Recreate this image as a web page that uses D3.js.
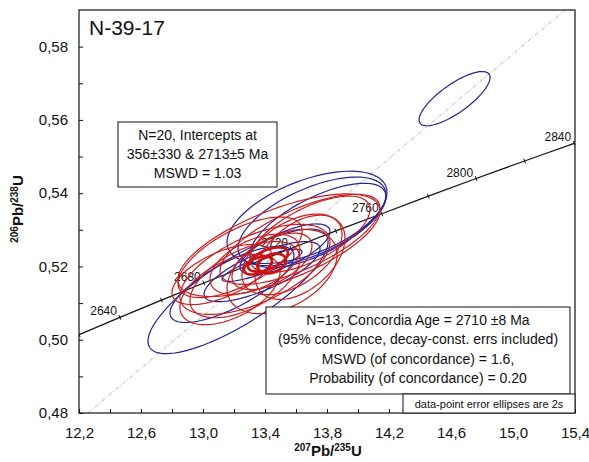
<!DOCTYPE html>
<html>
<head>
<meta charset="utf-8">
<script src="https://cdn.jsdelivr.net/npm/d3@7"></script>
<style>
  body { margin: 0; background: #fff; }
  svg { display: block; }
  text { font-family: Arial, "Liberation Sans", Helvetica, sans-serif; fill: #111; }
</style>
</head>
<body>
<svg id="chart" width="589" height="462"></svg>
<script>
// Axis tick values (207Pb/235U and 206Pb/238U)
const xTicks = [12.2, 12.4, 12.6, 12.8, 13.0, 13.2, 13.4, 13.6, 13.8, 14.0, 14.2, 14.4, 14.6, 14.8, 15.0, 15.2, 15.4];
const xLabelled = [12.2, 12.6, 13.0, 13.4, 13.8, 14.2, 14.6, 15.0, 15.4];
const yTicks = [0.48, 0.49, 0.50, 0.51, 0.52, 0.53, 0.54, 0.55, 0.56, 0.57, 0.58];
const yLabelled = [0.48, 0.50, 0.52, 0.54, 0.56, 0.58];

// Concordia curve points (age in Ma, 207Pb/235U, 206Pb/238U)
const concordiaAges = [2600, 2620, 2640, 2660, 2680, 2700, 2720, 2740, 2760, 2780, 2800, 2820, 2840];
const concordia207 = [11.944, 12.201, 12.464, 12.732, 13.005, 13.283, 13.568, 13.857, 14.153, 14.454, 14.762, 15.075, 15.395];
const concordia206 = [0.4968, 0.5014, 0.5061, 0.5108, 0.5155, 0.5202, 0.5249, 0.5297, 0.5344, 0.5392, 0.5440, 0.5488, 0.5536];
const labelledAges = [2640, 2680, 2720, 2760, 2800, 2840];

// Discordia (regression through both intercepts), end points inside the plot
const discordia207 = [12.258, 15.335];
const discordia206 = [0.480, 0.590];

// Error ellipses: [207Pb/235U, 206Pb/238U, 2s(207/235), 2s(206/238), rho]
const blueEllipses = [
  [14.623, 0.5658, 0.229, 0.0074, 0.78],
  [13.226, 0.5132, 0.581, 0.0170, 0.80],
  [13.187, 0.5151, 0.400, 0.0104, 0.75],
  [13.381, 0.5186, 0.374, 0.0082, 0.75],
  [13.671, 0.5334, 0.516, 0.0126, 0.54],
  [13.703, 0.5323, 0.477, 0.0121, 0.60],
  [13.742, 0.5312, 0.439, 0.0115, 0.68],
  [13.381, 0.5203, 0.258, 0.0044, 0.85],
  [13.529, 0.5247, 0.290, 0.0069, 0.70]
];
const redEllipses = [
  [13.335, 0.5192, 0.484, 0.0123, 0.60],
  [13.490, 0.5258, 0.652, 0.0140, 0.67],
  [13.626, 0.5274, 0.516, 0.0123, 0.70],
  [13.271, 0.5164, 0.355, 0.0104, 0.55],
  [13.174, 0.5137, 0.323, 0.0096, 0.50],
  [13.335, 0.5206, 0.290, 0.0082, 0.50],
  [13.445, 0.5214, 0.258, 0.0077, 0.55],
  [13.574, 0.5233, 0.323, 0.0110, 0.50],
  [13.239, 0.5225, 0.400, 0.0110, 0.65],
  [13.510, 0.5186, 0.355, 0.0115, 0.40],
  [13.626, 0.5225, 0.290, 0.0115, 0.45],
  [13.123, 0.5178, 0.323, 0.0082, 0.60],
  [13.690, 0.5288, 0.387, 0.0104, 0.65]
];
const boldEllipses = [
  [13.419, 0.5219, 0.129, 0.0033, 0.55],
  [13.355, 0.5203, 0.090, 0.0025, 0.45],
  [13.445, 0.5208, 0.090, 0.0027, 0.30]
];

const sampleName = "N-39-17";
const interceptText = ["N=20, Intercepts at", "356±330 & 2713±5 Ma", "MSWD = 1.03"];
const concordiaText = ["N=13, Concordia Age = 2710 ±8 Ma", "(95% confidence, decay-const. errs included)",
  "MSWD (of concordance) = 1.6,", "Probability (of concordance) = 0.20"];
const footnote = "data-point error ellipses are 2s";

(function draw() {
  const svg = d3.select("#chart");
  const pL = 79, pR = 575, pT = 10, pB = 413;
  const x = d3.scaleLinear().domain([12.2, 15.4]).range([pL, pR]);
  const y = d3.scaleLinear().domain([0.48, 0.59]).range([pB, pT]);

  svg.append("defs").append("clipPath").attr("id", "plotClip")
    .append("rect").attr("x", pL).attr("y", pT).attr("width", pR - pL).attr("height", pB - pT);

  const comma = (v, d) => v.toFixed(d).replace(".", ",");
  const isIn = (arr, d) => arr.some(v => Math.abs(v - d) < 1e-9);

  // axes with inward ticks
  const xAxis = d3.axisBottom(x).tickValues(xTicks).tickSize(-4).tickPadding(14)
    .tickFormat(d => isIn(xLabelled, d) ? comma(d, 1) : "");
  const gx = svg.append("g").attr("transform", `translate(0,${pB})`).call(xAxis);
  gx.select(".domain").remove();
  gx.selectAll("text").attr("font-size", 15).attr("font-family", "Arial, 'Liberation Sans', sans-serif").attr("fill", "#111");
  gx.selectAll("line").attr("stroke", "#111");

  const yAxis = d3.axisLeft(y).tickValues(yTicks).tickSize(-4).tickPadding(11)
    .tickFormat(d => isIn(yLabelled, d) ? comma(d, 2) : "");
  const gy = svg.append("g").attr("transform", `translate(${pL},0)`).call(yAxis);
  gy.select(".domain").remove();
  gy.selectAll("text").attr("font-size", 15).attr("font-family", "Arial, 'Liberation Sans', sans-serif").attr("fill", "#111");
  gy.selectAll("line").attr("stroke", "#111");

  const plot = svg.append("g").attr("clip-path", "url(#plotClip)");

  // discordia line
  plot.append("line")
    .attr("x1", x(discordia207[0])).attr("y1", y(discordia206[0]))
    .attr("x2", x(discordia207[1])).attr("y2", y(discordia206[1]))
    .attr("stroke", "#b4b4b4").attr("stroke-width", 1).attr("stroke-dasharray", "4,2,1,2");

  // concordia curve
  const cPts = concordiaAges.map((a, i) => [x(concordia207[i]), y(concordia206[i])]);
  plot.append("path").attr("d", d3.line().curve(d3.curveCatmullRom)(cPts))
    .attr("fill", "none").attr("stroke", "#111").attr("stroke-width", 1.2);

  // age ticks perpendicular to the curve
  cPts.forEach((p, i) => {
    const a = cPts[Math.max(0, i - 1)], b = cPts[Math.min(cPts.length - 1, i + 1)];
    const dx = b[0] - a[0], dy = b[1] - a[1], L = Math.hypot(dx, dy);
    const nx = -dy / L, ny = dx / L;
    plot.append("line")
      .attr("x1", p[0] - nx * 2.5).attr("y1", p[1] - ny * 2.5)
      .attr("x2", p[0] + nx * 2.5).attr("y2", p[1] + ny * 2.5)
      .attr("stroke", "#111").attr("stroke-width", 1);
  });

  // age labels on concordia (drawn beneath the ellipses)
  concordiaAges.forEach((a, i) => {
    if (!labelledAges.includes(a)) return;
    svg.append("text").attr("x", cPts[i][0] - 3).attr("y", cPts[i][1] - 2)
      .attr("text-anchor", "end").attr("font-size", 12).text(a);
  });

  // error ellipse outline in data space
  function ellipsePath(e) {
    const [cx, cy, sx, sy, r] = e;
    const q = Math.sqrt(1 - r * r);
    const pts = d3.range(0, 96).map(k => {
      const t = k / 96 * 2 * Math.PI;
      return [x(cx + sx * Math.cos(t)), y(cy + sy * (r * Math.cos(t) + q * Math.sin(t)))];
    });
    return d3.line().curve(d3.curveLinearClosed)(pts);
  }

  const marks = svg.append("g").attr("clip-path", "url(#plotClip)");
  marks.selectAll(".blue").data(blueEllipses).join("path").attr("class", "blue")
    .attr("d", ellipsePath).attr("fill", "none").attr("stroke", "#23239a").attr("stroke-width", 1.2);
  marks.selectAll(".red").data(redEllipses).join("path").attr("class", "red")
    .attr("d", ellipsePath).attr("fill", "none").attr("stroke", "#cf1c1c").attr("stroke-width", 1.2);
  marks.selectAll(".bold").data(boldEllipses).join("path").attr("class", "bold")
    .attr("d", ellipsePath).attr("fill", "none").attr("stroke", "#d01010").attr("stroke-width", 2.6);

  // frame
  svg.append("rect").attr("x", pL).attr("y", pT).attr("width", pR - pL).attr("height", pB - pT)
    .attr("fill", "none").attr("stroke", "#111").attr("stroke-width", 1.2);

  // sample name
  svg.append("text").attr("x", 89).attr("y", 35).attr("font-size", 21).text(sampleName);

  // intercept box
  svg.append("rect").attr("x", 118).attr("y", 122).attr("width", 159).attr("height", 65)
    .attr("fill", "#fff").attr("stroke", "#111").attr("stroke-width", 1);
  interceptText.forEach((t, i) => svg.append("text").attr("x", 197.5).attr("y", 140 + i * 19)
    .attr("text-anchor", "middle").attr("font-size", 14).text(t));

  // concordia age box
  svg.append("rect").attr("x", 266).attr("y", 307).attr("width", 304).attr("height", 87)
    .attr("fill", "#fff").attr("stroke", "#111").attr("stroke-width", 1);
  concordiaText.forEach((t, i) => svg.append("text").attr("x", 418).attr("y", 325 + i * 19.3)
    .attr("text-anchor", "middle").attr("font-size", 14).text(t));

  // footnote box
  svg.append("rect").attr("x", 403).attr("y", 394).attr("width", 172).attr("height", 19)
    .attr("fill", "#fff").attr("stroke", "#111").attr("stroke-width", 1);
  svg.append("text").attr("x", 489).attr("y", 407.5).attr("text-anchor", "middle").attr("font-size", 11).text(footnote);

  // axis titles
  const xt = svg.append("text").attr("x", 328).attr("y", 456).attr("text-anchor", "middle")
    .attr("font-weight", "bold").attr("font-size", 15);
  xt.append("tspan").attr("font-size", 10).attr("dy", -5).text("207");
  xt.append("tspan").attr("dy", 5).text("Pb/");
  xt.append("tspan").attr("font-size", 10).attr("dy", -5).text("235");
  xt.append("tspan").attr("dy", 5).text("U");

  const yt = svg.append("text").attr("transform", "translate(23,209) rotate(-90)").attr("text-anchor", "middle")
    .attr("font-weight", "bold").attr("font-size", 15);
  yt.append("tspan").attr("font-size", 10).attr("dy", -5).text("206");
  yt.append("tspan").attr("dy", 5).text("Pb/");
  yt.append("tspan").attr("font-size", 10).attr("dy", -5).text("238");
  yt.append("tspan").attr("dy", 5).text("U");
})();
</script>
</body>
</html>
